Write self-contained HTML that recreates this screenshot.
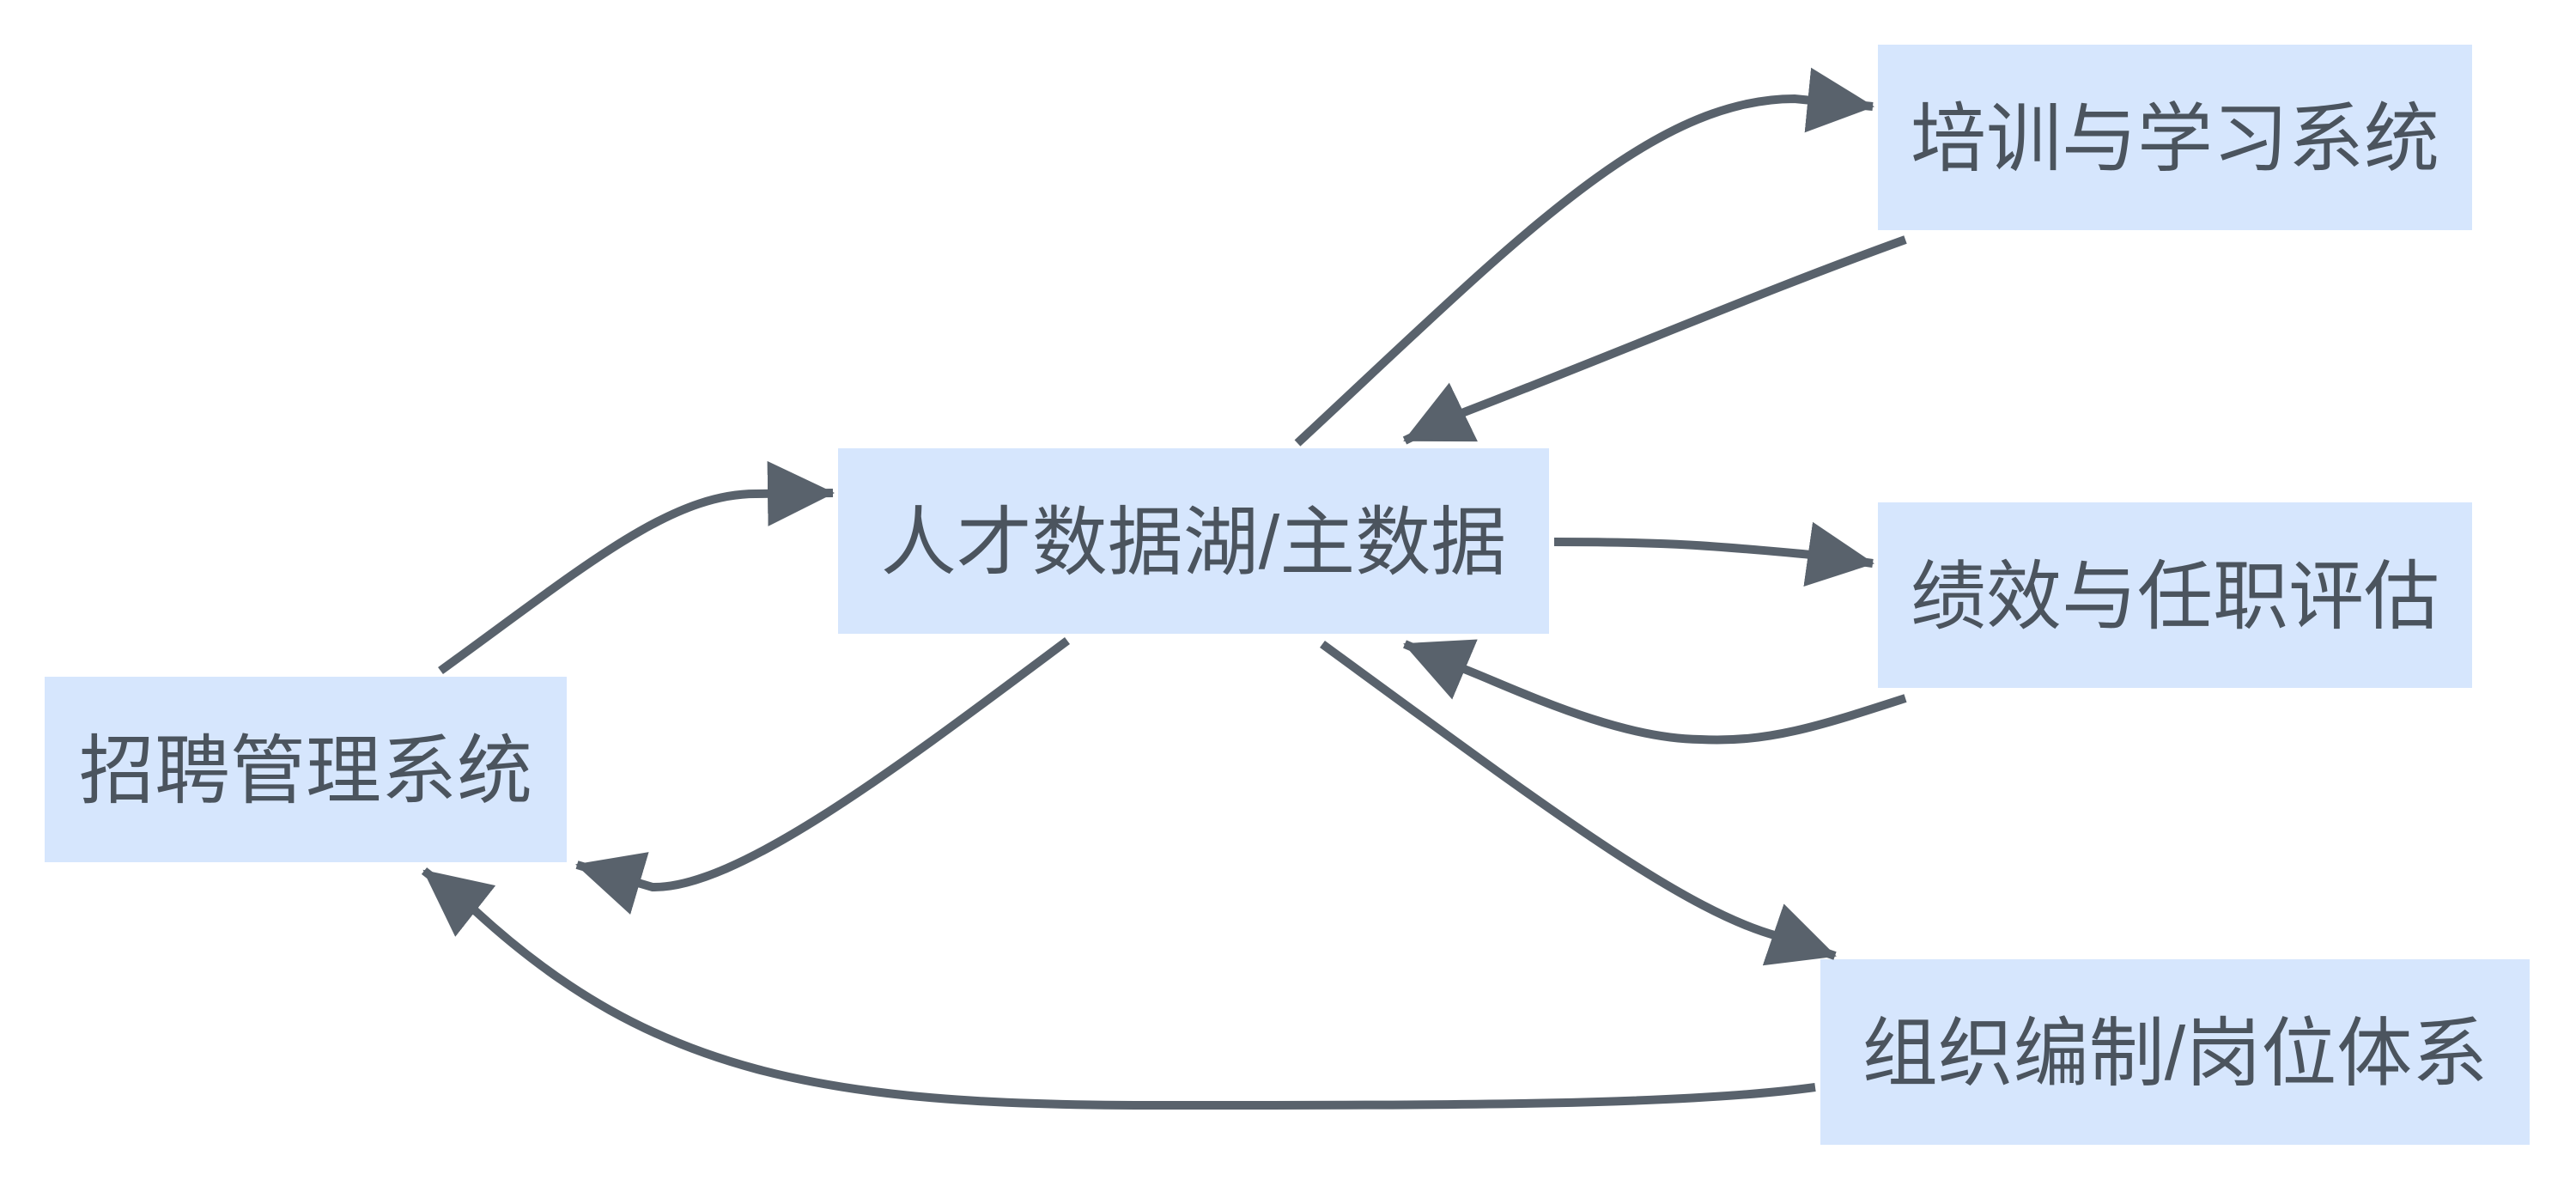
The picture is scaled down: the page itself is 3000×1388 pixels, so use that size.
<!DOCTYPE html>
<html><head><meta charset="utf-8"><style>
html,body{margin:0;padding:0;background:#fff;width:3000px;height:1388px;overflow:hidden}
text{font-family:"Liberation Sans","Noto Sans CJK SC",sans-serif;font-size:88px;fill:#4b545e}
</style></head><body>
<svg width="3000" height="1388" viewBox="0 0 3000 1388" xmlns="http://www.w3.org/2000/svg">
<defs>
<marker id="a" markerUnits="userSpaceOnUse" markerWidth="80" markerHeight="80" viewBox="0 0 80 80" refX="76" refY="40" orient="auto">
<path d="M0,2 L78,40 L0,78 Z" fill="#59626c"/>
</marker>
</defs>
<g fill="#d6e6fd">
<rect x="52" y="788" width="608" height="216"/>
<rect x="976" y="522" width="828" height="216"/>
<rect x="2187" y="52" width="692" height="216"/>
<rect x="2187" y="585" width="692" height="216"/>
<rect x="2120" y="1117" width="826" height="216"/>
</g>
<g fill="none" stroke="#59626c" stroke-width="10" marker-end="url(#a)">
<path d="M513 781 C 680 660, 780 575, 880 575 L 970 574"/>
<path d="M1243 746 C 1050 890, 860 1035, 760 1033 L 672 1007"/>
<path d="M2114 1266 C 1960 1287, 1700 1287, 1339 1287 C 960 1287, 760 1250, 555 1062 L 494 1014"/>
<path d="M1511 516 C 1760 285, 1920 115, 2090 115 L 2181 124"/>
<path d="M2219 279 C 2050 340, 1900 405, 1700 482 L 1636 513"/>
<path d="M1810 631 C 1950 631, 2000 636, 2110 646 L 2181 656"/>
<path d="M2219 813 C 2120 845, 2060 865, 1980 861 C 1880 860, 1760 800, 1700 777 L 1636 750"/>
<path d="M1540 750 C 1800 940, 1960 1060, 2070 1090 L 2137 1113"/>
</g>
<text x="356" y="928" text-anchor="middle">招聘管理系统</text>
<text x="1390" y="662" text-anchor="middle">人才数据湖/主数据</text>
<text x="2533" y="192" text-anchor="middle">培训与学习系统</text>
<text x="2533" y="725" text-anchor="middle">绩效与任职评估</text>
<text x="2533" y="1257" text-anchor="middle">组织编制/岗位体系</text>
</svg>
</body></html>
